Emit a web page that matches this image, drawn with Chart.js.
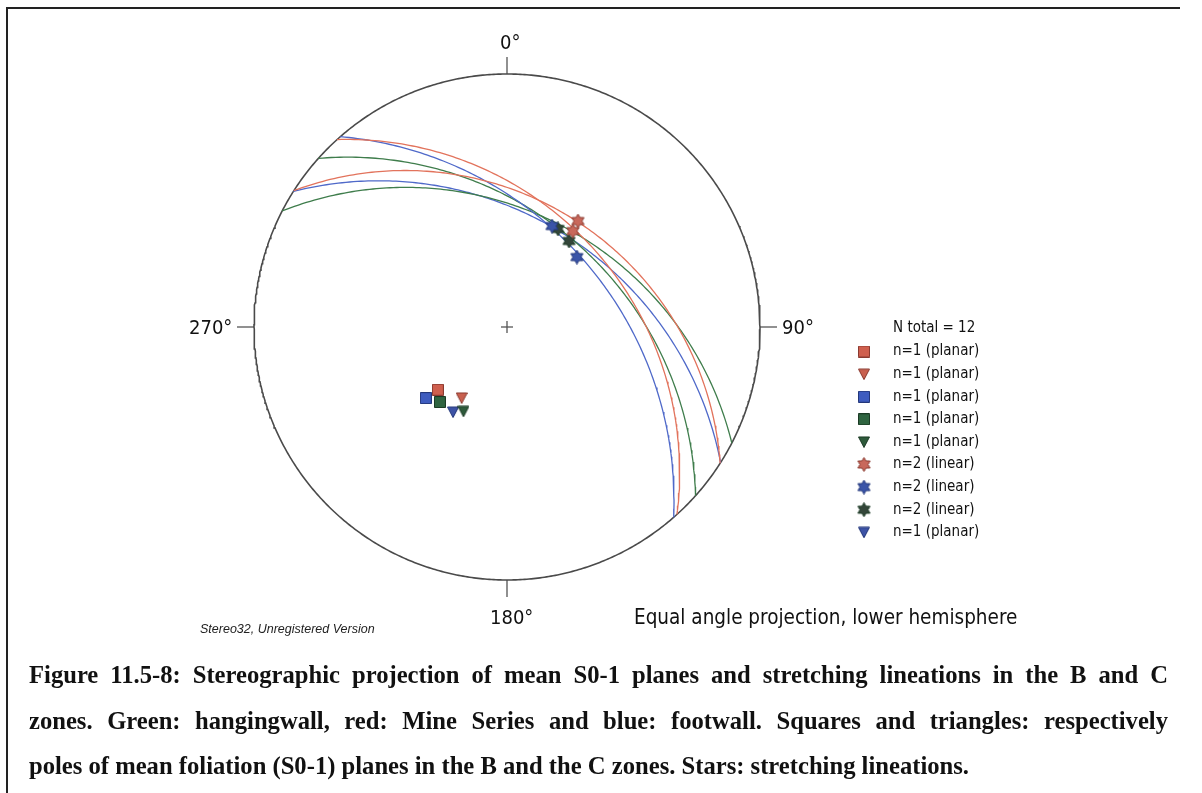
<!DOCTYPE html>
<html>
<head>
<meta charset="utf-8">
<script src="https://cdn.jsdelivr.net/npm/chart.js@4.4.1/dist/chart.umd.min.js"></script>
<style>
  body { margin: 0; background: #fff; width: 1202px; height: 793px; overflow: hidden; position: relative; }
  #frame { position: absolute; left: 6px; top: 7px; width: 1172px; height: 800px; border-left: 2px solid #222; border-top: 2px solid #222; }
  #net { position: absolute; left: 0; top: 0; }
  .lbl { position: absolute; white-space: nowrap; color: #111; font-family: "DejaVu Sans Condensed", "DejaVu Sans", sans-serif; font-stretch: condensed; font-size: 20px; line-height: 20px; }
  .small { position: absolute; white-space: nowrap; color: #222; font-family: "Liberation Sans", Arial, sans-serif; font-style: italic; font-size: 12.5px; line-height: 12px; }
  .cap { position: absolute; left: 29px; white-space: nowrap; color: #111; font-family: "Liberation Serif", "Times New Roman", serif; font-weight: bold; font-size: 26px; line-height: 26px; transform-origin: 0 0; }
</style>
</head>
<body>
<div id="frame"></div>
<canvas id="net" width="1202" height="793"></canvas>

<div class="lbl" style="left:500px; top:32px;">0°</div>
<div class="lbl" style="left:189px; top:317px;">270°</div>
<div class="lbl" style="left:782px; top:317px;">90°</div>
<div class="lbl" style="left:490px; top:607px;">180°</div>
<div class="lbl" style="left:634px; top:607px; font-size:20.5px;">Equal angle projection, lower hemisphere</div>
<div class="small" style="left:200px; top:623px;">Stereo32, Unregistered Version</div>

<div class="cap" data-w="1139" style="top:662px;">Figure 11.5-8: Stereographic projection of mean S0-1 planes and stretching lineations in the B and C</div>
<div class="cap" data-w="1139" style="top:708px;">zones. Green: hangingwall, red: Mine Series and blue: footwall. Squares and triangles: respectively</div>
<div class="cap" id="capLast" data-w="940" style="top:753px;">poles of mean foliation (S0-1) planes in the B and the C zones. Stars: stretching lineations.</div>

<script>
// mean S0-1 planes (dip direction / dip), legend order
const planeLabels = ["n=1 (planar)", "n=1 (planar)", "n=1 (planar)", "n=1 (planar)", "n=1 (planar)", "n=1 (planar)"];
const planeDipDir = [47.8, 32.6, 48.8, 41.8, 27.3, 32.4];
const planeDip    = [40.5, 36.8, 46.2, 43.4, 41.1, 43.4];
const planeZone   = ["red", "red", "blue", "green", "green", "blue"];
const planeMarker = ["square", "triangle", "square", "square", "triangle", "triangle"];

// stretching lineations (trend / plunge)
const redStarTrend    = [33.8, 34.5];
const redStarPlunge   = [36.5, 40.6];
const blueStarTrend   = [24.0, 45.0];
const blueStarPlunge  = [42.8, 47.3];
const greenStarTrend  = [27.5, 35.8];
const greenStarPlunge = [42.8, 44.5];

const nTotal = 12;

// layout of the net on the page
const W = 1202, H = 793, CX = 507, CY = 327, R = 253;
const D2R = Math.PI / 180;

const arcColor = { red: "#e2735c", blue: "#4f69c9", green: "#3f7d4c" };
const fillColor = {
  red: "#cf5f4e", blue: "#3e5cbf", green: "#2f6440",
  redTri: "#c9604f", greenTri: "#2e5a3b", blueTri: "#3d53a6",
  redStar: "#c8685b", blueStar: "#3a54a8", greenStar: "#34463a"
};
const edgeColor = { red: "#8a3a30", blue: "#23377a", green: "#1b3a24" };

// equal angle, lower hemisphere
function proj(trend, plunge) {
  const r = Math.tan((90 - plunge) * D2R / 2);
  return { x: r * Math.sin(trend * D2R), y: r * Math.cos(trend * D2R) };
}

function greatCircle(dipDir, dip) {
  const pts = [];
  const s = dipDir - 90;
  for (let a = 0; a <= 180; a += 1) {
    const ca = Math.cos(a * D2R), sa = Math.sin(a * D2R);
    const e = ca * Math.sin(s * D2R) + sa * Math.sin(dipDir * D2R) * Math.cos(dip * D2R);
    const n = ca * Math.cos(s * D2R) + sa * Math.cos(dipDir * D2R) * Math.cos(dip * D2R);
    const d = sa * Math.sin(dip * D2R);
    pts.push(proj(Math.atan2(e, n) / D2R, Math.asin(Math.min(1, d)) / D2R));
  }
  return pts;
}

function makeMarker(kind, fill, stroke) {
  const c = document.createElement("canvas");
  const size = kind === "star" ? 15 : 12;
  c.width = c.height = size;
  const g = c.getContext("2d");
  g.beginPath();
  if (kind === "square") {
    g.rect(0.5, 0.5, 11, 11);
  } else if (kind === "triangle") {
    g.moveTo(0.5, 1); g.lineTo(11.5, 1); g.lineTo(6, 11.5); g.closePath();
  } else {
    const m = size / 2, r = size / 2 - 0.5;
    for (let k = 0; k < 12; k++) {
      const a = k * Math.PI / 6, rr = k % 2 === 0 ? r : r * 0.58;
      g.lineTo(m + rr * Math.sin(a), m - rr * Math.cos(a));
    }
    g.closePath();
  }
  g.fillStyle = fill;
  g.fill();
  g.strokeStyle = stroke;
  g.lineWidth = 1;
  g.stroke();
  return c;
}

const datasets = [];

// primitive circle
const prim = [];
for (let a = 0; a <= 360; a += 0.5) prim.push({ x: Math.sin(a * D2R), y: Math.cos(a * D2R) });
datasets.push({ data: prim, showLine: true, pointRadius: 0, borderColor: "#4a4a4a", borderWidth: 1.6, order: 20 });

// ticks at 0/90/180/270 and centre cross
const tk = 17 / R, cr = 6 / R;
[[0, 1, 0, 1 + tk], [1, 0, 1 + tk, 0], [0, -1, 0, -1 - tk], [-1, 0, -1 - tk, 0],
 [-cr, 0, cr, 0], [0, -cr, 0, cr]].forEach(s => {
  datasets.push({ data: [{ x: s[0], y: s[1] }, { x: s[2], y: s[3] }], showLine: true, pointRadius: 0,
    borderColor: "#555", borderWidth: 1.3, order: 20 });
});

// great circles
planeDipDir.forEach((dd, i) => {
  datasets.push({ data: greatCircle(dd, planeDip[i]), showLine: true, pointRadius: 0,
    borderColor: arcColor[planeZone[i]], borderWidth: 1.3, order: 10 });
});

// legend entries in order
const legendItems = [];
function poleSet(i) {
  const z = planeZone[i], k = planeMarker[i];
  const fill = k === "triangle" ? fillColor[z + "Tri"] : fillColor[z];
  const img = makeMarker(k, fill, edgeColor[z]);
  legendItems.push({ img, text: planeLabels[i] });
  datasets.push({ data: [proj(planeDipDir[i] + 180, 90 - planeDip[i])], pointStyle: img, order: 1 });
}
function starSet(z, trends, plunges) {
  const img = makeMarker("star", fillColor[z + "Star"], edgeColor[z]);
  legendItems.push({ img, text: "n=" + trends.length + " (linear)" });
  datasets.push({ data: trends.map((t, j) => proj(t, plunges[j])), pointStyle: img, order: 0 });
}
poleSet(0); poleSet(1); poleSet(2); poleSet(3); poleSet(4);
starSet("red", redStarTrend, redStarPlunge);
starSet("blue", blueStarTrend, blueStarPlunge);
starSet("green", greenStarTrend, greenStarPlunge);
poleSet(5);

const legendPlugin = {
  id: "netLegend",
  afterDraw(chart) {
    const ctx = chart.ctx;
    ctx.save();
    ctx.fillStyle = "#111";
    ctx.font = '15px "DejaVu Sans Condensed", "DejaVu Sans", sans-serif';
    ctx.textBaseline = "middle";
    ctx.fillText("N total = " + nTotal, 893, 328);
    legendItems.forEach((it, i) => {
      const y = 351.5 + i * 22.6;
      Chart.helpers.drawPoint(ctx, { pointStyle: it.img, radius: 6, rotation: 0 }, 864, y);
      ctx.fillText(it.text, 893, y);
    });
    ctx.restore();
  }
};

new Chart(document.getElementById("net"), {
  type: "scatter",
  data: { datasets },
  options: {
    responsive: false,
    animation: false,
    layout: { padding: 0, autoPadding: false },
    plugins: { legend: { display: false }, tooltip: { enabled: false } },
    scales: {
      x: { display: false, min: -CX / R, max: (W - CX) / R },
      y: { display: false, min: -(H - CY) / R, max: CY / R }
    },
    elements: { point: { radius: 6 }, line: { tension: 0 } }
  },
  plugins: [legendPlugin]
});

// caption: same horizontal squeeze on every line, first two lines justified
const caps = Array.from(document.querySelectorAll(".cap"));
const last = document.getElementById("capLast");
const capScale = +last.dataset.w / last.getBoundingClientRect().width;
caps.forEach(el => {
  if (el !== last) {
    const natural = el.getBoundingClientRect().width;
    const gaps = (el.textContent.match(/ /g) || []).length;
    const extra = (+el.dataset.w / capScale - natural) / gaps;
    el.style.wordSpacing = extra + "px";
  }
  el.style.transform = "scaleX(" + capScale + ")";
});
</script>
</body>
</html>
